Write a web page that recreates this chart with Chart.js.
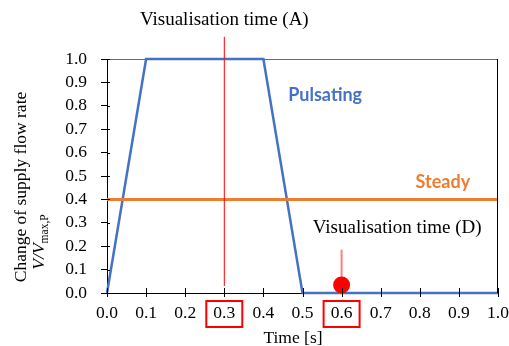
<!DOCTYPE html>
<html>
<head>
<meta charset="utf-8">
<script src="https://cdn.jsdelivr.net/npm/chart.js@4"></script>
<style>
  html, body { margin: 0; padding: 0; background: #fff; }
  #wrap { width: 509px; height: 346px; }
</style>
</head>
<body>
<div id="wrap"><canvas id="flowChart"></canvas></div>
<script>
// pulsating supply: ramp up, hold, ramp down, off
const pulseTime = [0, 0.1, 0.4, 0.5, 1.0];
const pulseRate = [0, 1, 1, 0, 0];
// steady supply
const steadyTime = [0, 1.0];
const steadyRate = [0.4, 0.4];
// visualisation markers
const markATime = [0.3, 0.3];
const markARate = [0.03, 1.095];
const markDTime = [0.6, 0.6];
const markDRate = [0.04, 0.185];
const dotTime = [0.6];
const dotRate = [0.034];
const boxedTicks = [0.3, 0.6];

const SERIF = '"Liberation Serif", "Times New Roman", serif';
const BLUE = '#4472C4';
const ORANGE = '#ED7D31';
const RED = '#FF0000';

const pts = (xs, ys) => xs.map((x, i) => ({ x, y: ys[i] }));

const annotations = {
  id: 'annotations',
  afterDraw(chart) {
    const { ctx, chartArea: a, scales: { x, y } } = chart;
    ctx.save();

    // top and right frame
    ctx.lineWidth = 1;
    ctx.strokeStyle = '#6b6b6b';
    ctx.beginPath();
    ctx.moveTo(a.left, a.top + 0.5);
    ctx.lineTo(a.right, a.top + 0.5);
    ctx.stroke();
    ctx.strokeStyle = '#000';
    ctx.beginPath();
    ctx.moveTo(a.right - 0.5, a.top);
    ctx.lineTo(a.right - 0.5, a.bottom);
    ctx.stroke();

    // tick marks crossing the time axis
    x.ticks.forEach(t => {
      const px = Math.round(x.getPixelForValue(t.value)) + 0.5;
      ctx.beginPath();
      ctx.moveTo(px, a.bottom - 5);
      ctx.lineTo(px, a.bottom + 4);
      ctx.stroke();
    });
    // inner stubs of the rate axis ticks
    y.ticks.forEach(t => {
      const py = Math.round(y.getPixelForValue(t.value)) + 0.5;
      ctx.beginPath();
      ctx.moveTo(a.left, py);
      ctx.lineTo(a.left + 3, py);
      ctx.stroke();
    });

    // red boxes round the visualisation ticks
    ctx.strokeStyle = RED;
    ctx.lineWidth = 2;
    boxedTicks.forEach(v => {
      const px = x.getPixelForValue(v);
      ctx.strokeRect(px - 18, a.bottom + 8, 36, 26);
    });

    // text notes
    ctx.textAlign = 'center';
    ctx.textBaseline = 'middle';
    ctx.fillStyle = '#000';
    ctx.font = '19px ' + SERIF;
    ctx.fillText('Visualisation time (A)', x.getPixelForValue(0.3), y.getPixelForValue(1.167));
    ctx.fillText('Visualisation time (D)', x.getPixelForValue(0.742), y.getPixelForValue(0.278));

    ctx.font = 'bold 18px Lato, "Open Sans", sans-serif';
    ctx.fillStyle = BLUE;
    ctx.fillText('Pulsating', x.getPixelForValue(0.558), y.getPixelForValue(0.846));
    ctx.fillStyle = ORANGE;
    ctx.fillText('Steady', x.getPixelForValue(0.859), y.getPixelForValue(0.474));

    // axis titles
    ctx.fillStyle = '#000';
    ctx.font = '17.5px ' + SERIF;
    ctx.textBaseline = 'alphabetic';
    ctx.fillText('Time [s]', 293, 343);

    ctx.save();
    ctx.translate(26, 187);
    ctx.rotate(-Math.PI / 2);
    ctx.fillText('Change of supply flow rate', 0, 0);
    ctx.restore();

    ctx.save();
    ctx.translate(44, 242);
    ctx.rotate(-Math.PI / 2);
    ctx.textAlign = 'left';
    const mainFont = 'italic 17.5px ' + SERIF;
    const subFont = '11.5px ' + SERIF;
    ctx.font = mainFont;
    const w1 = ctx.measureText('V/V').width;
    ctx.font = subFont;
    const w2 = ctx.measureText('max,P').width;
    const start = -(w1 + w2) / 2;
    ctx.font = mainFont;
    ctx.fillText('V/V', start, 0);
    ctx.font = subFont;
    ctx.fillText('max,P', start + w1, 4);
    ctx.restore();

    ctx.restore();
  }
};

new Chart(document.getElementById('flowChart'), {
  type: 'scatter',
  data: {
    datasets: [
      {
        label: 'Visualisation (D) point',
        data: pts(dotTime, dotRate),
        backgroundColor: RED,
        borderWidth: 0,
        pointRadius: 8.5,
        showLine: false,
        clip: false
      },
      {
        label: 'Visualisation (A)',
        data: pts(markATime, markARate),
        borderColor: RED,
        borderWidth: 1,
        pointRadius: 0,
        showLine: true,
        clip: false
      },
      {
        label: 'Visualisation (D)',
        data: pts(markDTime, markDRate),
        borderColor: 'rgba(255,0,0,0.5)',
        borderWidth: 2,
        pointRadius: 0,
        showLine: true,
        clip: false
      },
      {
        label: 'Steady',
        data: pts(steadyTime, steadyRate),
        borderColor: ORANGE,
        borderWidth: 3,
        pointRadius: 0,
        showLine: true,
        clip: false
      },
      {
        label: 'Pulsating',
        data: pts(pulseTime, pulseRate),
        borderColor: BLUE,
        borderWidth: 2.5,
        pointRadius: 0,
        showLine: true,
        tension: 0,
        clip: false
      }
    ]
  },
  options: {
    responsive: true,
    maintainAspectRatio: false,
    animation: false,
    layout: { padding: { left: 0, right: 11, top: 59, bottom: 0 } },
    plugins: {
      legend: { display: false },
      tooltip: { enabled: false }
    },
    scales: {
      x: {
        type: 'linear',
        min: 0,
        max: 1,
        afterFit: s => { s.height = 53; s.paddingLeft = 0; s.paddingRight = 0; },
        ticks: {
          stepSize: 0.1,
          padding: 2,
          color: '#000',
          font: { family: SERIF, size: 17.5 },
          maxRotation: 0,
          autoSkip: false,
          callback: v => v.toFixed(1)
        },
        grid: { display: false },
        border: { display: true, color: '#000', width: 1 }
      },
      y: {
        min: 0,
        max: 1,
        afterFit: s => { s.width = 107; s.paddingTop = 0; s.paddingBottom = 0; },
        ticks: {
          stepSize: 0.1,
          padding: 14,
          color: '#000',
          autoSkip: false,
          font: { family: SERIF, size: 17.5 },
          callback: v => v.toFixed(1)
        },
        grid: { display: true, drawOnChartArea: false, drawTicks: true, tickLength: 6, color: '#000' },
        border: { display: true, color: '#000', width: 1 }
      }
    }
  },
  plugins: [annotations]
});
</script>
</body>
</html>
